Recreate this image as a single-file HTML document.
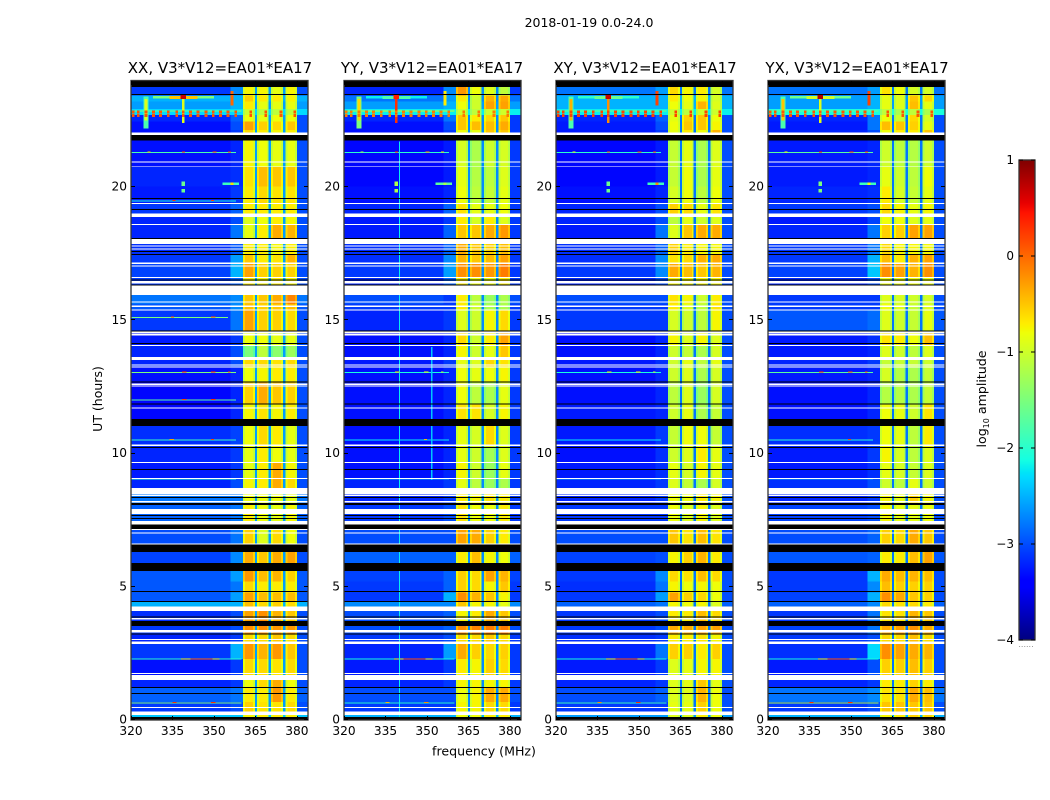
<!DOCTYPE html>
<html lang="en">
<head>
<meta charset="utf-8">
<title>2018-01-19 0.0-24.0</title>
<style>
html,body{margin:0;padding:0;background:#fff;width:1050px;height:800px;overflow:hidden}
svg{display:block}
text{font-family:"DejaVu Sans","Liberation Sans",sans-serif;fill:#000}
</style>
</head>
<body>
<svg id="figure" xmlns="http://www.w3.org/2000/svg" width="1050" height="800" viewBox="0 0 1050 800">
  <rect width="1050" height="800" fill="#fff"/>
  <text x="589" y="27" font-size="12.5" text-anchor="middle">2018-01-19 0.0-24.0</text>
  <g id="panels"></g>
  <text x="220" y="73" font-size="15" text-anchor="middle">XX, V3*V12=EA01*EA17</text>
  <text x="432" y="73" font-size="15" text-anchor="middle">YY, V3*V12=EA01*EA17</text>
  <text x="645" y="73" font-size="15" text-anchor="middle">XY, V3*V12=EA01*EA17</text>
  <text x="857" y="73" font-size="15" text-anchor="middle">YX, V3*V12=EA01*EA17</text>
  <text transform="translate(102 399) rotate(-90)" font-size="12.5" text-anchor="middle">UT (hours)</text>
  <text x="484" y="755.5" font-size="12.6" text-anchor="middle">frequency (MHz)</text>
  <g id="colorbar"></g>
  <text transform="translate(986 399) rotate(-90)" font-size="12.6" text-anchor="middle">log<tspan font-size="8" dy="3">10</tspan><tspan dy="-3"> amplitude</tspan></text>
  <text x="1026" y="647" font-size="8" fill="#888" text-anchor="middle" style="fill:#888">......</text>
</svg>
<script>
// ---------- data (log10 amplitude, hours, MHz) ----------
const xTickLabels = [320, 335, 350, 365, 380];
const yTickLabels = [0, 5, 10, 15, 20];
const colorbarTicks = [1, 0, -1, -2, -3, -4];
const panelNames = ['xx', 'yy', 'xy', 'yx'];

// Frequency column boundaries, MHz: background, roll-off, band A, gap, B, gap, C, gap, D, upper edge
const colEdges = [320, 356, 360.5, 364.8, 365.6, 369.8, 370.7, 375, 375.9, 380, 384];
const gapLevels = [-2.6, -2.7, -2.8, -2.8];
const sideLevels = [-3.0, -3.1, -3.0, -3.0];
const backgroundShift = -0.2;
const bandRimDrop = -0.22;
const bandRimWidth = 0.7;

// Top hour of each time section
const sectionTops = [24,23.44,23.2,22.92,22.7,22.45,22.14,21.95,20.76,20.01,19.37,18.87,18.57,18.06,17.46,17.12,16.61,15.95,15.61,15.38,14.52,14.05,13.51,13.23,12.68,11.88,11.28,10.26,9.67,9.07,8.48,8.07,7.37,6.58,5.9,5.19,4.79,4.44,4.25,3.54,3.2,2.88,2.29,1.66,1.2,0.68,0.29];

// Per section: background, roll-off, band A, band B, band C, band D
const sectionsXX = [
[-2.9,-2.5,-.75,-.75,-.85,-.75],[-2.3,-2.3,-.55,-.7,-.7,-.75],[-2.4,-2.3,-.7,-.85,-.85,-.85],[-2.1,-2.1,-1,-1.1,-1.1,-1.1],[-3,-2.7,-.8,-.85,-.8,-.8],[-3.1,-2.8,-.3,-.55,-.6,-.5],[-3.1,-2.9,-.6,-.7,-.75,-.7],[-3.1,-3,-.75,-.8,-.85,-.85],[-3,-2.95,-.65,-.45,-.5,-.5],[-3.05,-2.9,-.7,-.6,-.65,-.65],
[-2.9,-2.7,-.7,-.7,-.7,-.7],[-3,-2.8,-.9,-.8,-.7,-.75],[-3,-2.6,-.85,-.7,-.35,-.4],[-2.95,-2.75,-.7,-.7,-.75,-.7],[-2.9,-2.4,-.5,-.7,-.65,-.4],[-2.85,-2.3,-.3,-.55,-.55,-.55],[-2.9,-2.7,-.7,-.75,-.7,-.75],[-2.6,-2.5,-.5,-.5,-.35,-.15],[-2.75,-2.5,-.45,-.55,-.5,-.45],[-2.9,-2.6,-.3,-.55,-.55,-.6],
[-3.05,-2.9,-.8,-.8,-.85,-.85],[-3,-2.8,-1.5,-1.1,-1.4,-1.3],[-3,-2.8,-.6,-.6,-.65,-.6],[-3.1,-3,-.8,-.75,-.7,-.7],[-3.15,-3,-.55,-.35,-.5,-.55],[-3.15,-3,-.75,-.65,-.75,-.7],[-2.95,-2.85,-.8,-.6,-.7,-.85],[-3,-2.9,-.85,-.7,-.8,-.85],[-3.05,-2.9,-.85,-.7,-.35,-.75],[-3,-2.8,-.75,-.7,-.35,-.6],
[-2.6,-2.6,-.8,-.8,-.8,-.85],[-2.7,-2.6,-.7,-.8,-.85,-.75],[-2.8,-2.6,-.55,-.9,-.6,-.8],[-2.85,-2.5,-.35,-.5,-.35,-.3],[-2.75,-2.4,-.25,-.45,-.4,-.55],[-2.75,-2.6,-.6,-.7,-.7,-.7],[-2.75,-2.4,-.3,-.45,-.45,-.45],[-2.3,-2.3,-.45,-.6,-.55,-.6],[-2.95,-2.8,-.3,-.2,-.4,-.5],[-2.9,-2.8,-.2,-.2,-.25,-.25],
[-3,-2.9,-.6,-.6,-.5,-.6],[-2.9,-2.3,-.25,-.4,-.25,-.5],[-3.1,-2.9,-.6,-.6,-.65,-.6],[-3,-2.9,-.8,-.6,-.35,-.8],[-2.7,-2.6,-.7,-.7,-.25,-.7],[-2.9,-2.8,-.55,-.65,-.65,-.6],[-2.2,-2.2,-.75,-.7,-.7,-.7]];
const sectionsYY = [
[-3,-2.5,-.25,-.8,-.9,-1.1],[-2.6,-2.4,-.7,-1,-.4,-.35],[-2.4,-2.3,-.8,-1,-.3,-.3],[-2,-2,-1,-1.1,-1,-1],[-3,-2.6,-.5,-.7,-.6,-.5],[-3.1,-2.8,-.5,-.45,-.45,-.35],[-3.1,-2.9,-.8,-.85,-.5,-.5],[-3.15,-3.05,-.95,-1.2,-1,-.95],[-3.15,-3.05,-.85,-1.15,-1.1,-.9],[-3.1,-3,-.8,-1.1,-1.05,-.85],
[-3,-2.7,-.65,-.85,-.85,-.8],[-3.05,-2.9,-.7,-.95,-.7,-.9],[-3.05,-2.7,-.5,-.5,-.35,-.25],[-2.95,-2.7,-.35,-.5,-.55,-.45],[-2.95,-2.5,-.4,-.5,-.45,-.3],[-2.9,-2.4,-.2,-.2,-.25,-.1],[-3,-2.7,-.7,-.8,-.8,-.7],[-2.8,-2.9,-.7,-1.1,-1.3,-1.2],[-2.9,-2.9,-.7,-1,-1.2,-1.2],[-3,-2.9,-.9,-1,-.75,-.6],
[-3.1,-3,-.6,-1,-.7,-.3],[-3.1,-3,-.75,-1,-.85,-.5],[-3.05,-2.9,-.85,-.9,-.6,-.65],[-3.1,-3,-.8,-.85,-.8,-.75],[-3.1,-3,-.8,-1.1,-1.2,-.85],[-3.1,-3,-.65,-.65,-.95,-.75],[-3.1,-3,-.85,-.95,-.6,-.9],[-3.1,-3,-.85,-1,-1.25,-.9],[-3.1,-3,-.75,-1,-1.3,-.85],[-3,-2.9,-.85,-1.1,-1.3,-1.2],
[-3,-2.9,-.7,-.75,-.65,-.7],[-2.9,-2.8,-.65,-.8,-.8,-.7],[-2.8,-2.8,-.3,-.35,-.55,-.7],[-2.7,-2.7,-.7,-.45,-.75,-.8],[-2.85,-2.7,-.55,-.6,-.3,-.4],[-2.9,-2.7,-.55,-.6,-.75,-.5],[-2.9,-2.3,-.2,-.4,-.5,-.75],[-2.5,-2.5,-.5,-.75,-.75,-.85],[-2.8,-2.7,-.75,-.7,-.35,-.5],[-2.8,-2.7,-.2,-.15,-.1,-.1],
[-2.9,-2.8,-.6,-.6,-.5,-.6],[-3,-2.4,-.35,-.55,-.6,-.55],[-3.05,-2.9,-.7,-.75,-.55,-.6],[-3,-2.9,-.75,-.75,-.75,-.75],[-2.8,-2.8,-.8,-.75,-.35,-.35],[-2.9,-2.9,-.75,-.75,-.6,-.6],[-2.3,-2.3,-.8,-.8,-.7,-.7]];
const sectionsXY = [
[-2.6,-2.4,-.6,-.75,-.7,-.95],[-2.3,-2.3,-.7,-.8,-.75,-.95],[-2.3,-2.3,-.8,-.85,-.4,-.9],[-2,-2,-1,-1.1,-1,-1],[-3,-2.7,-.85,-.55,-.5,-.8],[-3.05,-2.8,-.8,-.5,-.5,-.75],[-3.05,-2.9,-.85,-.7,-.8,-.4],[-3.15,-3.05,-1.05,-.85,-1.2,-.9],[-3.15,-3.05,-1.05,-.8,-1.2,-.85],[-3.1,-3,-.95,-.8,-1.1,-.8],
[-3,-2.8,-.55,-.6,-.85,-.65],[-3,-2.8,-1.1,-.85,-1,-.9],[-3.05,-2.6,-.9,-.5,-.35,-.35],[-2.95,-2.7,-.55,-.7,-.75,-.75],[-2.95,-2.5,-.65,-.6,-.4,-.35],[-2.9,-2.5,-.35,-.45,-.5,-.4],[-3,-2.8,-.75,-.75,-.75,-.75],[-2.8,-2.8,-.65,-.75,-1,-.7],[-2.9,-2.9,-.7,-.9,-1.1,-.65],[-2.9,-2.9,-.95,-1,-1.1,-.75],
[-3.1,-3,-.75,-.9,-.75,-.9],[-3.1,-3,-1,-1.05,-1.2,-.95],[-3.05,-2.95,-1,-.85,-1.1,-.85],[-3.1,-3,-1,-.9,-1.2,-.95],[-3.1,-3,-1.1,-.9,-1.3,-.95],[-3.05,-3,-1,-.85,-1.2,-1.05],[-3.05,-2.9,-1.05,-.8,-.8,-1.05],[-3.1,-2.95,-1,-.9,-.7,-.85],[-3.05,-2.95,-.85,-.95,-.75,-.85],[-3,-2.9,-.9,-1.05,-1.2,-.95],
[-3,-2.9,-.8,-.8,-.7,-.75],[-2.9,-2.9,-.8,-.9,-.75,-.9],[-2.8,-2.8,-.5,-.65,-.45,-.65],[-2.85,-2.8,-.75,-.55,-.4,-.7],[-2.9,-2.5,-.6,-.65,-.45,-.6],[-2.95,-2.6,-.75,-.8,-.75,-.8],[-2.9,-2.4,-.3,-.55,-.6,-.8],[-2.7,-2.6,-.75,-.8,-.75,-.9],[-2.9,-2.8,-.7,-.7,-.45,-.6],[-2.9,-2.8,-.35,-.35,-.3,-.3],
[-2.95,-2.9,-.7,-.7,-.65,-.75],[-3,-2.6,-.55,-.55,-.7,-.55],[-3.05,-2.9,-.9,-.85,-.75,-.75],[-3,-2.9,-.9,-.85,-.5,-.85],[-2.8,-2.7,-.9,-.9,-.4,-.8],[-2.9,-2.9,-.85,-.85,-.55,-.8],[-2.4,-2.4,-.9,-.9,-.7,-.8]];
const sectionsYX = [
[-2.6,-2.4,-.65,-.8,-.95,-.95],[-2.4,-2.3,-.85,-.9,-.5,-.6],[-2.4,-2.3,-.85,-.9,-.45,-.85],[-1.9,-1.9,-1.1,-1.2,-1.1,-1.2],[-3,-2.6,-.8,-1,-.6,-.95],[-3.05,-2.6,-.45,-.5,-.55,-.85],[-3,-2.8,-.8,-.7,-.7,-.5],[-3.05,-3,-1,-1.1,-1.15,-1],[-3.05,-3,-.85,-1,-1.1,-.8],[-3,-2.95,-.7,-.95,-1.05,-.85],
[-2.9,-2.8,-.6,-.75,-.85,-.75],[-3.05,-2.85,-.8,-.8,-.9,-.85],[-3,-2.6,-.55,-.55,-.3,-.3],[-2.9,-2.6,-.6,-.75,-.75,-.75],[-2.9,-2.3,-.45,-.7,-.4,-.3],[-2.85,-2.2,-.2,-.3,-.4,-.2],[-3,-2.8,-.8,-.8,-.8,-.8],[-2.9,-2.9,-.9,-.95,-1,-.95],[-2.9,-2.9,-.8,-.9,-1.05,-.9],[-2.75,-2.65,-.9,-1,-1.05,-.85],
[-3.05,-2.95,-.65,-.7,-.8,-.45],[-3.05,-3,-.9,-1,-1.1,-.9],[-3,-2.9,-1.05,-1.05,-1.05,-1],[-3.05,-3,-.95,-1.15,-1.2,-1.05],[-3.1,-3,-1.15,-1.15,-1.2,-1.05],[-3.1,-3,-.8,-.85,-1,-.65],[-2.95,-2.9,-.8,-.85,-1.1,-.7],[-3.05,-2.9,-.75,-.95,-1.1,-.9],[-3.05,-2.95,-.85,-.95,-1.05,-.9],[-2.95,-2.8,-1,-1.1,-.85,-1],
[-3,-2.9,-.75,-.85,-.55,-.75],[-2.85,-2.8,-.75,-.85,-.85,-.8],[-2.8,-2.7,-.55,-.6,-.35,-.5],[-2.75,-2.7,-.7,-.7,-.45,-.3],[-2.9,-2.3,-.35,-.45,-.4,-.45],[-2.9,-2.5,-.45,-.55,-.55,-.55],[-2.85,-2.3,-.2,-.35,-.5,-.55],[-2.7,-2.5,-.6,-.65,-.6,-.7],[-2.9,-2.6,-.65,-.65,-.4,-.5],[-2.85,-2.6,-.35,-.3,-.2,-.35],
[-2.9,-2.8,-.6,-.6,-.45,-.6],[-2.95,-2.1,-.2,-.3,-.35,-.4],[-3.05,-2.8,-.55,-.55,-.45,-.55],[-3,-2.9,-.7,-.7,-.55,-.7],[-2.6,-2.5,-.65,-.65,-.35,-.45],[-2.9,-2.8,-.5,-.5,-.5,-.5],[-2.3,-2.3,-.75,-.7,-.55,-.55]];

// Narrow-band horizontal lines: hour, f0, f1, then XX, YY, XY, YX values
const rfiLines = [
[22.88,320,360,-1.5,-1,-1.5,-1.6],[21.32,320,358,-1.8,-2,-2,-1.7],[19.5,320,358,-2.1,null,null,null],[15.12,320,355,-1.5,null,null,null],[13.06,320,358,-1.5,-2.1,-2.1,-1.7],[12.03,320,358,-1.7,null,null,null],[10.53,320,358,-1.9,-2.2,-2.2,-2],[9.06,320,358,-2,-2.6,-2.6,-2.6],[2.31,320,360,-2,-2.1,-2.1,-2.1],[2.31,338,352,-.8,-.8,-.8,-.8],[2.31,341.5,349.5,0,.1,.1,.1],[0.66,320,360,-1.5,-2,-1.9,-1.2]];

// Hot spots and spikes: f0, f1, top hour, bottom hour, then XX, YY, XY, YX values
const features = [
[328,350,23.42,23.32,-1.5,-2.2,-2,-1.6],[334,344,23.42,23.3,-.5,-1.8,-1.6,-1],[324.5,326.3,23.4,22.2,-1.8,-1.5,-1.8,-1.8],[324.9,325.9,23.3,22.5,-.9,-.6,-.4,-.5],[338.4,339.4,23.45,22.4,-.9,.3,-.2,-.9],[337.9,339.9,23.45,23.3,.7,.4,.7,.8],[356,357,23.6,23.05,0,-.7,.2,.2],
[339.8,340.3,21.7,0,null,-2.2,null,null],[351.5,352,14,9,null,-2.4,null,null],
[338.3,339.6,20.2,20.03,-1.6,-1.2,-1.6,-1.5],[338.3,339.6,19.93,19.8,-1.6,-1.2,-1.6,-1.5],[353,359,20.17,20.08,-1.9,-1.7,-1.9,-1.9],[356,357,20.17,20.08,-.6,-1.2,-.2,-.8],
[326,327,21.33,21.29,-.5,-1.2,-.8,-.8],[338.5,339.6,21.33,21.29,.3,.4,.1,.5],[349.5,351,21.33,21.29,.2,-.2,.3,.3],[355,356.2,21.33,21.29,.3,-.6,.2,.3],
[335,336,19.52,19.48,.3,null,null,null],[349,350,19.52,19.48,.2,null,null,null],[334.5,335.5,15.14,15.1,.2,null,null,null],[349,350.5,15.14,15.1,.2,null,null,null],[338.5,340,13.08,13.04,.4,-.6,-.7,.4],[349,350.5,13.08,13.04,.4,-.8,-.7,.2],[355,356,13.08,13.04,.2,-1,-1,.2],[338.5,340,12.05,12.01,.2,null,null,null],[349,350.5,12.05,12.01,.3,null,null,null],[334,335.5,10.55,10.51,-.3,null,null,null],[349,350,10.55,10.51,.2,-.4,null,.2],
[335,336.5,0.68,0.64,.3,-.4,-.2,.3],[349,350.5,0.68,0.64,.3,-.2,.3,.3]];
const dotFreqs = [320.8,322.6,325.4,328.1,330.7,333.5,336.5,338.9,341.5,344.2,347.1,349.7,352.4,355.1,357.9,363.3,368.7,374.2,379.2];
const dotHours = [22.87, 22.74];
const dotValues = [.1, -.1, .2, .1];

// Flagged time ranges shared by all polarisations: top hour, bottom hour
const whiteBands = [[22.04,21.95],[20.95,20.92],[19.4,19.36],[19.01,18.87],[18.62,18.58],[18.06,17.87],[17.8,17.76],[17.69,17.65],[17.17,17.12],[17.05,17.01],[16.62,16.58],[16.48,16.37],[16.31,15.95],[15.71,15.67],[15.56,15.5],[15.41,15.36],[14.57,14.53],[14.5,14.42],[14.07,14.03],[13.62,13.51],[13.34,13.3],[13.27,13.24],[12.62,12.58],[12.55,12.51],[11.72,11.68],[10.34,10.29],[9.69,9.65],[9.08,9.05],[8.7,8.47],[8.44,8.41],[8.22,8.17],[7.92,7.73],[7.47,7.34],[7.16,7.13],[7.03,6.99],[6.63,6.59],[4.25,4.09],[3.82,3.78],[3.38,3.29],[3.04,3],[2.94,2.86],[1.77,1.73],[1.68,1.5],[.49,.45],[.32,.19]];
const blackBands = [[24,23.76],[23.49,23.45],[21.95,21.74],[19.59,19.55],[19.17,19.14],[18.09,18.06],[17.59,17.56],[17.49,17.46],[16.52,16.49],[16.34,16.31],[14.61,14.58],[14.14,14.11],[12.71,12.67],[11.87,11.84],[11.29,11.03],[10.25,10.22],[9.42,9.39],[8.36,8.34],[8.15,8.07],[7.69,7.66],[7.58,7.55],[7.34,7.16],[6.58,6.31],[5.9,5.59],[4.84,4.8],[4.47,4.44],[3.88,3.85],[3.71,3.53],[3.24,3.2],[1.24,1.21],[1.01,.98],[.12,0]];

// ---------- layout and scales ----------
const SVGNS = 'http://www.w3.org/2000/svg';
const panelLefts = [131, 344, 556, 768];
const panelWidth = 177;
const allSections = [sectionsXX, sectionsYY, sectionsXY, sectionsYX];
const xMin = 320, xMax = 384, yBase = 720, pxPerHour = 26.65;
function xScale(f, left) { return left + (f - xMin) * panelWidth / (xMax - xMin); }
function yScale(h) { return yBase - h * pxPerHour; }
function cbScale(v) { return 640 - (v + 4) * 96; }

function jet(v) {
  const t = Math.min(1, Math.max(0, (v + 4) / 5));
  const ramp = (a, b, x) => Math.min(1, Math.max(0, (x - a) / (b - a)));
  const r = t < .89 ? ramp(.35, .66, t) : 1 - .5 * ramp(.89, 1, t);
  const g = t < .5 ? ramp(.125, .375, t) : 1 - ramp(.64, .91, t);
  const b = t < .3 ? .5 + .5 * ramp(0, .11, t) : 1 - ramp(.34, .65, t);
  return 'rgb(' + Math.round(r * 255) + ',' + Math.round(g * 255) + ',' + Math.round(b * 255) + ')';
}
function rect(parent, x, y, w, h, fill) {
  const el = document.createElementNS(SVGNS, 'rect');
  el.setAttribute('x', x.toFixed(2));
  el.setAttribute('y', y.toFixed(2));
  el.setAttribute('width', w.toFixed(2));
  el.setAttribute('height', Math.max(1, h).toFixed(2));
  el.setAttribute('fill', fill);
  el.setAttribute('shape-rendering', 'crispEdges');
  parent.appendChild(el);
  return el;
}
function label(parent, x, y, str, anchor, size) {
  const el = document.createElementNS(SVGNS, 'text');
  el.setAttribute('x', x);
  el.setAttribute('y', y);
  el.setAttribute('font-size', size);
  el.setAttribute('text-anchor', anchor);
  el.textContent = str;
  parent.appendChild(el);
  return el;
}
function line(parent, x1, y1, x2, y2, color) {
  const el = document.createElementNS(SVGNS, 'line');
  el.setAttribute('x1', x1);
  el.setAttribute('y1', y1);
  el.setAttribute('x2', x2);
  el.setAttribute('y2', y2);
  el.setAttribute('stroke', color);
  el.setAttribute('stroke-width', 1);
  parent.appendChild(el);
  return el;
}
function fmtTick(v) { return String(v).replace('-', '\u2212'); }

// ---------- draw panels ----------
const panelsRoot = document.getElementById('panels');
panelLefts.forEach(function (left, p) {
  const g = document.createElementNS(SVGNS, 'g');
  
  
  panelsRoot.appendChild(g);

  const rows = allSections[p];
  rows.forEach(function (row, s) {
    const top = sectionTops[s];
    const bottom = s + 1 < sectionTops.length ? sectionTops[s + 1] : 0;
    const [bg0, slope0, a, b, c, d] = row;
    const bg = bg0 + backgroundShift;
    const slope = slope0 + backgroundShift;
    const gap = Math.max(gapLevels[p], bg);
    const side = Math.max(sideLevels[p], bg);
    const vals = [bg, slope, a, gap, b, gap, c, gap, d, side];
    const isBand = [false, false, true, false, true, false, true, false, true, false];
    vals.forEach(function (v, k) {
      const x0 = xScale(colEdges[k], left), x1 = xScale(colEdges[k + 1], left);
      const yTop = yScale(top), hgt = yScale(bottom) - yScale(top);
      const el = rect(g, x0, yTop, x1 - x0, hgt, jet(v));
      
      
      if (isBand[k]) {
        const rimW = xScale(xMin + bandRimWidth, left) - left;
        const rimL = rect(g, x0, yTop, rimW, hgt, jet(v + bandRimDrop));
        
        
        const rimR = rect(g, x1 - rimW, yTop, rimW, hgt, jet(v + bandRimDrop));
        
        
      }
    });
  });

  rfiLines.forEach(function (r) {
    const v = r[3 + p];
    if (v === null) return;
    const x0 = xScale(r[1], left), x1 = xScale(r[2], left);
    const el = rect(g, x0, yScale(r[0]), x1 - x0, 1, jet(v));
    
    
  });

  features.forEach(function (r) {
    const v = r[4 + p];
    if (v === null) return;
    const x0 = xScale(r[0], left), x1 = xScale(r[1], left);
    const el = rect(g, x0, yScale(r[2]), x1 - x0, yScale(r[3]) - yScale(r[2]), jet(v));
    
    
  });

  dotHours.forEach(function (h) {
    dotFreqs.forEach(function (f) {
      const el = rect(g, xScale(f - .5, left), yScale(h), xScale(f + .5, left) - xScale(f - .5, left), 3, jet(dotValues[p]));
      
      
    });
  });

  whiteBands.forEach(function (b) {
    const el = rect(g, left, yScale(b[0]), panelWidth, yScale(b[1]) - yScale(b[0]), '#fff');
    
    
  });
  blackBands.forEach(function (b) {
    const el = rect(g, left, yScale(b[0]), panelWidth, yScale(b[1]) - yScale(b[0]), '#000');
    
    
  });

  const frame = document.createElementNS(SVGNS, 'rect');
  frame.setAttribute('x', left);
  frame.setAttribute('y', 80.5);
  frame.setAttribute('width', panelWidth);
  frame.setAttribute('height', 639.5);
  frame.setAttribute('fill', 'none');
  frame.setAttribute('stroke', '#333');
  frame.setAttribute('stroke-width', 1.3);
  
  
  g.appendChild(frame);

  xTickLabels.forEach(function (f) {
    const x = Math.round(xScale(f, left)) + .5;
    const t1 = line(g, x, 720, x, 716, '#000');
    
    
    const t2 = line(g, x, 81, x, 85, '#000');
    
    
    const tl = label(g, xScale(f, left), 735, String(f), 'middle', 12.2);
    
    
  });
  yTickLabels.forEach(function (h) {
    const y = Math.round(yScale(h)) - .5;
    const t1 = line(g, left, y, left + 4, y, '#000');
    
    
    const t2 = line(g, left + panelWidth, y, left + panelWidth - 4, y, '#000');
    
    
    const tl = label(g, left - 4, yScale(h) + 3.5, String(h), 'end', 12.2);
    
    
  });
});

// ---------- colorbar ----------
const cb = document.getElementById('colorbar');
for (let py = 160; py < 640; py++) {
  const v = -4 + (640 - py - .5) / 96;
  const el = rect(cb, 1019, py, 16, 1, jet(v));
  
  
}
const cbFrame = document.createElementNS(SVGNS, 'rect');
cbFrame.setAttribute('x', 1019);
cbFrame.setAttribute('y', 160);
cbFrame.setAttribute('width', 16);
cbFrame.setAttribute('height', 480);
cbFrame.setAttribute('fill', 'none');
cbFrame.setAttribute('stroke', '#333');
cbFrame.setAttribute('stroke-width', 1.3);


cb.appendChild(cbFrame);
colorbarTicks.forEach(function (v) {
  const y = cbScale(v);
  const t1 = line(cb, 1019, y, 1023, y, '#000');
  
  
  const t2 = line(cb, 1035, y, 1031, y, '#000');
  
  
  const tl = label(cb, 1014, y + 4, fmtTick(v), 'end', 12);
  
  
});
</script>
</body>
</html>
